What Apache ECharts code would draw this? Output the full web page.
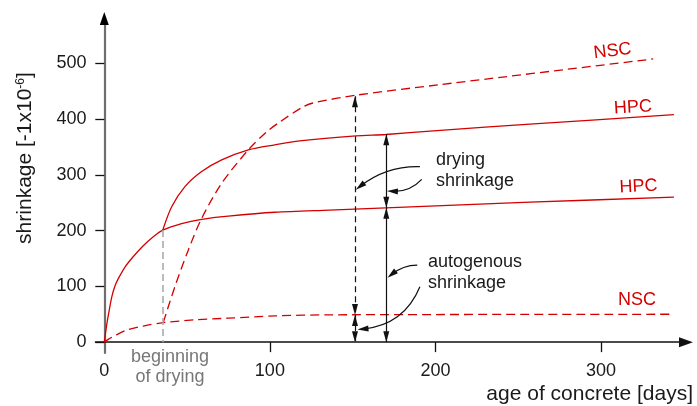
<!DOCTYPE html>
<html><head><meta charset="utf-8">
<script src="https://cdn.jsdelivr.net/npm/echarts@6/dist/echarts.min.js"></script>
<style>html,body{margin:0;padding:0;background:#fff}#c{width:697px;height:406px}</style>
</head><body><div id="c"></div>
<script>
// ---- data ----
const xTickLabels = [0, 100, 200, 300];
const yTickLabels = [0, 100, 200, 300, 400, 500];
const hpcAutogenous = [[0,0],[1.45,31],[3.0,57.6],[4.6,82],[6.5,101],[8.3,113],[12.5,134.7],[17.3,152.7],[23.4,172.4],[29.4,188.6],[35.3,201],[46.7,212.8],[58.8,220.3],[74.9,226],[103,233],[136,237],[257,251],[344,260]];
const hpcTotal = [[35.3,201],[40.7,243],[48.7,279],[58.8,306],[70.9,327],[87,345],[103,354],[118,361],[152,370],[170,372.5],[203,380],[257,391],[344,408]];
const nscAutogenous = [[0,0],[2.4,5],[5.4,10],[13.5,21.7],[23.6,28.9],[35.6,35],[54.8,40],[75,43],[103,47],[136,49],[342,50]];
const nscTotal = [[35.6,35],[42.7,100],[50.7,165],[58.8,222],[70.9,285],[87,345],[98,377],[106,395],[120,422],[126,429],[152,443],[203,462],[331.5,508]];
const dryingStartDay = 35.3;
const dryingStartHpc = 201;
// measuring arrows
const nscArrowDay = 151.4, nscArrowTop = 441, nscArrowMid = 48.5;
const hpcArrowDay = 170.3, hpcArrowTop = 373, hpcArrowMid = 241;
// pointer arrows: from, to, curveness
const pointerFrom = [[190.6,314.7],[191.7,292.1],[189.0,138.3],[190.6,99.4]];
const pointerTo = [[154.5,279.5],[174.0,270.5],[173.6,121.6],[156.2,23.5]];
const pointerCurve = [-0.18, 0.23, -0.18, 0.3];

const RED = '#d40000';
const FONT = '"Liberation Sans", Arial, Helvetica, sans-serif';
const TXT = '#1a1a1a';
const X_MIN = -5.31, X_MAX = 351.3, Y_MIN = -19.5, Y_MAX = 580.6;

const chart = echarts.init(document.getElementById('c'), null, {renderer:'canvas'});

const arrowSym = {symbol:'triangle', symbolSize:[6,11], symbolOffset:[0,5.5]};
function vArrow(day, a, b, style) {
  return [
    Object.assign({coord:[day,a]}, arrowSym),
    Object.assign({coord:[day,b], lineStyle: style}, arrowSym)
  ];
}
const dashedBlack = {color:'#111', width:1.2, type:[6,4]};
const solidBlack = {color:'#111', width:1.2, type:'solid'};

const markData = [
  [{coord:[dryingStartDay,dryingStartHpc], symbol:'none'}, {coord:[dryingStartDay,0], symbol:'none', lineStyle:{color:'#ababab', width:1.6, type:[7,4]}}],
  vArrow(nscArrowDay, nscArrowTop, nscArrowMid, dashedBlack),
  vArrow(nscArrowDay, nscArrowMid, 0, dashedBlack),
  vArrow(hpcArrowDay, hpcArrowTop, hpcArrowMid, solidBlack),
  vArrow(hpcArrowDay, hpcArrowMid, 0, solidBlack)
];

function lineSeries(data, dashed, extra) {
  return Object.assign({
    type:'line', data:data, smooth:0.3, showSymbol:false, symbol:'none',
    lineStyle:{color:RED, width:1.3, type: dashed ? [9,5] : 'solid'},
    silent:true, z:3
  }, extra || {});
}

const option = {
  animation:false,
  grid:{left:95.5, right:11, top:18.5, bottom:53, containLabel:false},
  xAxis:{
    type:'value', min:X_MIN, max:X_MAX,
    splitLine:{show:false},
    axisLine:{onZero:true, symbol:['none','triangle'], symbolSize:[10,14], lineStyle:{color:'#111', width:1.6}},
    axisTick:{show:true, length:10, customValues:xTickLabels.slice(1), lineStyle:{color:'#111', width:1.3}},
    axisLabel:{customValues:xTickLabels, margin:9, fontSize:18, fontFamily:FONT, color:TXT}
  },
  yAxis:{
    type:'value', min:Y_MIN, max:Y_MAX,
    splitLine:{show:false},
    axisLine:{onZero:true, symbol:['none','none'], lineStyle:{color:'#6e6e6e', width:2.2}},
    axisTick:{show:true, length:9, customValues:yTickLabels, lineStyle:{color:'#111', width:1.3}},
    axisLabel:{customValues:yTickLabels, margin:9, fontSize:18, fontFamily:FONT, color:TXT}
  },
  series:[
    lineSeries(hpcAutogenous, false),
    lineSeries(hpcTotal, false),
    lineSeries(nscTotal, true),
    lineSeries(nscAutogenous, true, {
      markLine:{
        silent:true, animation:false, symbol:['triangle','triangle'], symbolSize:[6,11],
        label:{show:false}, emphasis:{disabled:true},
        lineStyle:{color:'#111', width:1.2},
        data:markData
      }
    }),
    {
      type:'lines', coordinateSystem:'cartesian2d', silent:true, animation:false, z:5,
      symbol:['none','triangle'], symbolSize:[0,[6,11]],
      lineStyle:{color:'#111', width:1.2, opacity:1},
      data: pointerFrom.map((f,i) => ({coords:[f, pointerTo[i]], lineStyle:{curveness:pointerCurve[i]}}))
    }
  ],
  graphic:[
    {type:'text', x:25, y:158, rotation:Math.PI/2, style:{
      text:'shrinkage [-1x10{sup|-6}]', font:'21px '+FONT, fill:TXT, align:'center', verticalAlign:'middle',
      rich:{sup:{fontSize:12, fontFamily:FONT, fill:TXT, verticalAlign:'top', lineHeight:12}}
    }},
    {type:'text', x:693, y:394, style:{text:'age of concrete [days]', font:'21px '+FONT, fill:TXT, align:'right', verticalAlign:'middle'}},
    {type:'text', x:436, y:170.5, style:{text:'drying\nshrinkage', font:'18px '+FONT, lineHeight:21, fill:TXT, align:'left', verticalAlign:'middle'}},
    {type:'text', x:428, y:272.5, style:{text:'autogenous\nshrinkage', font:'18px '+FONT, lineHeight:21, fill:TXT, align:'left', verticalAlign:'middle'}},
    {type:'text', x:170, y:367, style:{text:'beginning\nof drying', font:'18px '+FONT, lineHeight:20, fill:'#777', align:'center', verticalAlign:'middle'}},
    {type:'text', x:612.5, y:51, rotation:0.12, style:{text:'NSC', font:'18px '+FONT, fill:RED, align:'center', verticalAlign:'middle'}},
    {type:'text', x:633, y:107.5, rotation:0.06, style:{text:'HPC', font:'18px '+FONT, fill:RED, align:'center', verticalAlign:'middle'}},
    {type:'text', x:638.5, y:186.5, rotation:0.05, style:{text:'HPC', font:'18px '+FONT, fill:RED, align:'center', verticalAlign:'middle'}},
    {type:'text', x:637, y:300.5, style:{text:'NSC', font:'18px '+FONT, fill:RED, align:'center', verticalAlign:'middle'}}
  ]
};
chart.setOption(option);
// black arrowhead on top of the grey y axis line
const tip = chart.convertToPixel({gridIndex:0}, [0, Y_MAX]);
chart.setOption({graphic: option.graphic.concat([{
  type:'polygon', z:10, silent:true,
  shape:{points:[[tip[0], tip[1]-6.5],[tip[0]-4.5, tip[1]+6.5],[tip[0]+4.5, tip[1]+6.5]]},
  style:{fill:'#000'}
}])});
</script></body></html>
